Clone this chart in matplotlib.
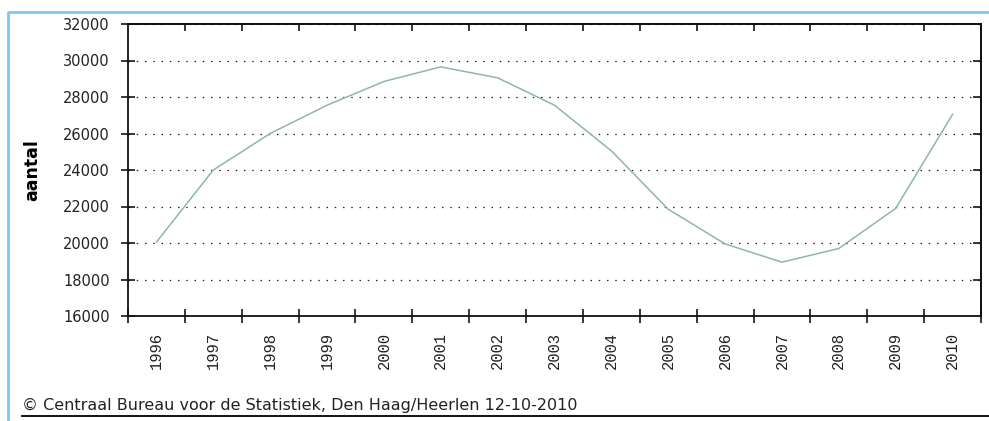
import matplotlib
matplotlib.use("Agg")
import matplotlib.pyplot as plt
from matplotlib.lines import Line2D
import numpy as np

years = ["1996", "1997", "1998", "1999", "2000", "2001", "2002", "2003",
         "2004", "2005", "2006", "2007", "2008", "2009", "2010"]
aantal = [20050, 24000, 26000, 27550, 28850, 29650, 29050, 27550,
          25050, 21850, 19950, 18950, 19700, 21900, 27050]
y_ticks = [16000, 18000, 20000, 22000, 24000, 26000, 28000, 30000, 32000]
ylabel = "aantal"
source = "\u00a9 Centraal Bureau voor de Statistiek, Den Haag/Heerlen 12-10-2010"

W, H = 989, 421
fig = plt.figure(figsize=(W / 100, H / 100), dpi=100)
fig.patch.set_facecolor("white")

left, right, top, bottom = 128, 981, 24, 316
ax = fig.add_axes([left / W, 1 - bottom / H, (right - left) / W, (bottom - top) / H])

x = np.arange(len(years))
ax.plot(x, aantal, color="#8fb4b4", lw=1.1, solid_joinstyle="round")

ax.set_xlim(-0.5, len(years) - 0.5)
ax.set_ylim(y_ticks[0], y_ticks[-1])

boundaries = np.arange(-0.5, len(years), 1.0)

# x: boundary ticks (major, no labels), labels on minor at category centers
ax.set_xticks(boundaries)
ax.set_xticklabels([])
ax.set_xticks(x, minor=True)
ax.set_xticklabels(years, minor=True, rotation=90, family="Liberation Mono",
                   fontsize=11.2, color="#222222")
ax.tick_params(axis="x", which="major", direction="inout", length=10,
               width=1.1, top=False, color="black")
ax.tick_params(axis="x", which="minor", length=0, pad=11.5)

ax.set_yticks(y_ticks)
ax.set_yticklabels([str(v) for v in y_ticks], family="DejaVu Sans",
                   fontsize=10.5, color="#222222")
ax.tick_params(axis="y", which="major", direction="inout", length=10,
               width=1.1, right=False, pad=8, color="black")

# top and right: inward ticks only
sec_top = ax.secondary_xaxis("top")
sec_top.set_xticks(boundaries[1:-1])
sec_top.set_xticklabels([])
sec_top.tick_params(direction="in", length=5, width=1.1, color="black")
sec_right = ax.secondary_yaxis("right")
sec_right.set_yticks(y_ticks[1:-1])
sec_right.set_yticklabels([])
sec_right.tick_params(direction="in", length=5.5, width=1.1, color="black")
for sec in (sec_top, sec_right):
    for s in sec.spines.values():
        s.set_linewidth(1.3)
        s.set_color("#111111")

for s in ax.spines.values():
    s.set_linewidth(1.3)
    s.set_color("#111111")

ax.grid(axis="y", color="#222222", linestyle=(0, (1.2, 5.4)), lw=0.9)
ax.set_axisbelow(True)

ax.set_ylabel(ylabel, fontsize=12.5, fontweight="bold", family="DejaVu Sans")
ax.yaxis.set_label_coords(-(left - 41) / (right - left), 0.5)

# light blue frame (left and top)
blue = "#7cc8ee"
fig.add_artist(Line2D([8 / W, 8 / W, 1.0], [0.0, 1 - 12 / H, 1 - 12 / H],
                      transform=fig.transFigure, color=blue, lw=2.0))
# black separator line under source
fig.add_artist(Line2D([22 / W, 1.0], [1 - 415.5 / H, 1 - 415.5 / H],
                      transform=fig.transFigure, color="black", lw=1.3))

fig.text(22 / W, 1 - 405 / H, source, fontsize=11.5, family="DejaVu Sans",
         color="#222222", ha="left", va="center")

fig.savefig("out.png", dpi=100, facecolor="white")
